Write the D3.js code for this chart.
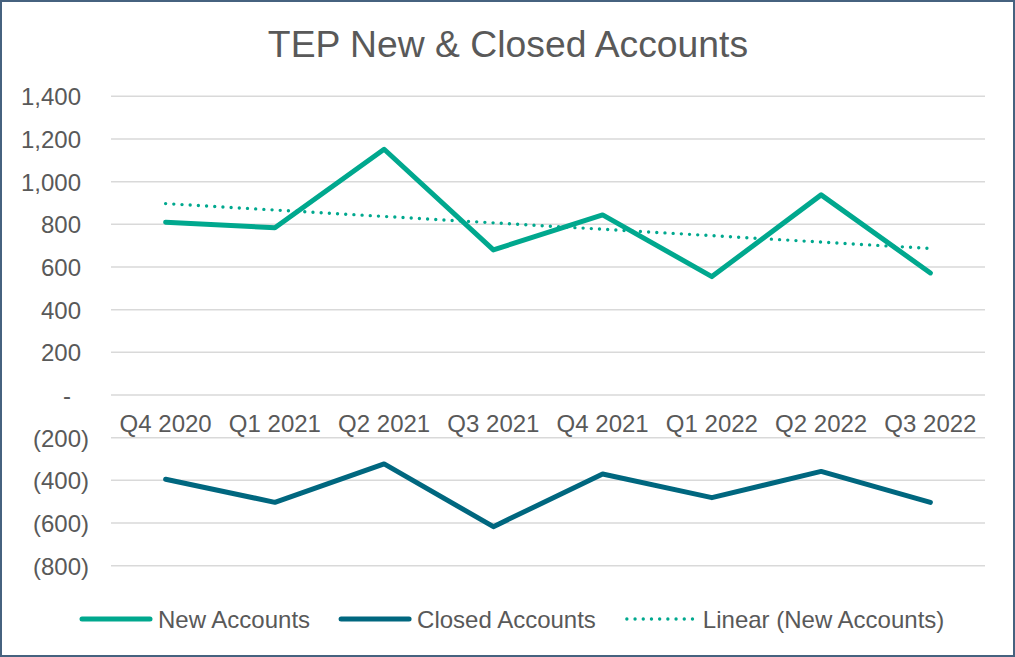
<!DOCTYPE html>
<html>
<head>
<meta charset="utf-8">
<script src="https://cdn.jsdelivr.net/npm/d3@7"></script>
<style>
  body { margin: 0; background: #fff; }
  svg { display: block; font-family: "Liberation Sans", Arial, sans-serif; }
</style>
</head>
<body>
<div id="chart"></div>
<script>
const quarters = ["Q4 2020", "Q1 2021", "Q2 2021", "Q3 2021", "Q4 2021", "Q1 2022", "Q2 2022", "Q3 2022"];
const newAccounts = [810, 784, 1152, 680, 844, 555, 938, 572];
const closedAccounts = [-395, -503, -323, -617, -370, -481, -358, -503];
const yTicks = [-800, -600, -400, -200, 0, 200, 400, 600, 800, 1000, 1200, 1400];
const seriesNames = ["New Accounts", "Closed Accounts", "Linear (New Accounts)"];

const width = 1015, height = 657;
const margin = {top: 96.3, right: 30, bottom: 91.3, left: 111};
const textColor = "#595959";
const green = "#00A88E", blue = "#00677F";

const svg = d3.select("#chart").append("svg")
    .attr("width", width)
    .attr("height", height);

svg.append("rect")
    .attr("x", 1).attr("y", 1)
    .attr("width", width - 2).attr("height", height - 2)
    .attr("fill", "#fff")
    .attr("stroke", "#46627F")
    .attr("stroke-width", 2);

svg.append("text")
    .attr("x", width / 2 + 0.5)
    .attr("y", 57)
    .attr("text-anchor", "middle")
    .attr("fill", textColor)
    .style("font-size", "37.3px")
    .text("TEP New & Closed Accounts");

const innerW = width - margin.left - margin.right;
const innerH = height - margin.top - margin.bottom;

const g = svg.append("g")
    .attr("transform", `translate(${margin.left}, ${margin.top})`);

const xScale = d3.scaleBand()
    .domain(quarters)
    .range([0, innerW]);

const yScale = d3.scaleLinear()
    .domain([-800, 1400])
    .range([innerH, 0]);

const cx = d => xScale(d) + xScale.bandwidth() / 2;

// gridlines
g.append("g")
    .selectAll("line")
    .data(yTicks)
    .join("line")
    .attr("x1", 0).attr("x2", innerW)
    .attr("y1", d => yScale(d)).attr("y2", d => yScale(d))
    .attr("stroke", "#D9D9D9")
    .attr("stroke-width", 1.5);

// y axis (accounting format)
const fmt = d3.format(",");
const yAxis = d3.axisLeft(yScale)
    .tickValues(yTicks)
    .tickSize(0)
    .tickPadding(0)
    .tickFormat(d => d === 0 ? "-" : d < 0 ? `(${fmt(-d)})` : fmt(d));

const yAxisGroup = g.append("g")
    .attr("transform", `translate(-22, 0)`)
    .call(yAxis);
yAxisGroup.select(".domain").remove();
yAxisGroup.selectAll("text")
    .attr("fill", textColor)
    .style("font-size", "24px")
    .attr("dy", "0.35em")
    .attr("x", d => d === 0 ? -18 : d < 0 ? 0 : -8);

// x labels sit under the zero line
const xAxis = d3.axisBottom(xScale).tickSize(0).tickPadding(0);
const xAxisGroup = g.append("g")
    .attr("transform", `translate(0, ${yScale(0)})`)
    .call(xAxis);
xAxisGroup.select(".domain").remove();
xAxisGroup.selectAll("text")
    .attr("fill", textColor)
    .style("font-size", "24px")
    .attr("y", 37)
    .attr("dy", 0);

// trend line from least squares fit
const xs = quarters.map((_, i) => i + 1);
const mx = d3.mean(xs), my = d3.mean(newAccounts);
const slope = d3.sum(xs, (x, i) => (x - mx) * (newAccounts[i] - my)) / d3.sum(xs, x => (x - mx) ** 2);
const intercept = my - slope * mx;
const trend = xs.map(x => intercept + slope * x);

const line = d3.line()
    .x((d, i) => cx(quarters[i]))
    .y(d => yScale(d));

g.append("path")
    .datum(trend)
    .attr("d", line)
    .attr("fill", "none")
    .attr("stroke", green)
    .attr("stroke-width", 3.4)
    .attr("stroke-linecap", "round")
    .attr("stroke-dasharray", "0 8.2");

g.append("path")
    .datum(closedAccounts)
    .attr("d", line)
    .attr("fill", "none")
    .attr("stroke", blue)
    .attr("stroke-width", 5)
    .attr("stroke-linecap", "round")
    .attr("stroke-linejoin", "round");

g.append("path")
    .datum(newAccounts)
    .attr("d", line)
    .attr("fill", "none")
    .attr("stroke", green)
    .attr("stroke-width", 5)
    .attr("stroke-linecap", "round")
    .attr("stroke-linejoin", "round");

// legend
const legend = svg.append("g").attr("transform", "translate(82, 619)");
const legendStyles = [
    {color: green, width: 5, dash: null},
    {color: blue, width: 5, dash: null},
    {color: green, width: 3.4, dash: "0 8.2"}
];
let lx = 0;
seriesNames.forEach((name, i) => {
    const st = legendStyles[i];
    const lineLen = 68;
    legend.append("line")
        .attr("x1", lx).attr("x2", lx + lineLen)
        .attr("y1", 0).attr("y2", 0)
        .attr("stroke", st.color)
        .attr("stroke-width", st.width)
        .attr("stroke-linecap", "round")
        .attr("stroke-dasharray", st.dash);
    const t = legend.append("text")
        .attr("x", lx + lineLen + 8)
        .attr("y", 8.5)
        .attr("fill", textColor)
        .style("font-size", "24px")
        .text(name);
    lx += lineLen + 8 + t.node().getComputedTextLength() + 31;
});
</script>
</body>
</html>
